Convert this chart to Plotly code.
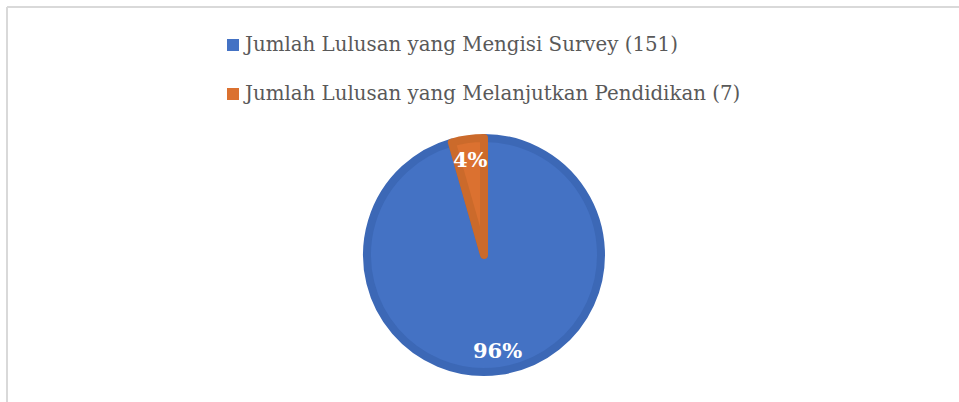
import math
import plotly.graph_objects as go

labels = ["Jumlah Lulusan yang Mengisi Survey (151)", "Jumlah Lulusan yang Melanjutkan Pendidikan (7)"]
values = [151, 7]
colors = ["#4472C4", "#DB7130"]
edge_colors = ["#3C68B6", "#CB6A2B"]

W, H = 959, 402
def px(x):
    return x / W
def py(y):
    return 1 - y / H

cx, cy, R = 484, 255, 121
lw = 8
r = R - lw / 2

fig = go.Figure(go.Pie(
    labels=labels, values=values, sort=False, direction="clockwise", rotation=0,
    marker=dict(colors=colors, line=dict(color=edge_colors, width=lw)),
    textinfo="none",
    domain=dict(x=[px(cx - r), px(cx + r)], y=[py(cy + r), py(cy - r)]),
    showlegend=False, hoverinfo="label+value+percent",
))

shapes = [
    dict(type="line", xref="paper", yref="paper", x0=px(7), x1=1.05, y0=py(7), y1=py(7),
         line=dict(color="#D9D9D9", width=2)),
    dict(type="line", xref="paper", yref="paper", x0=px(7), x1=px(7), y0=-0.05, y1=py(7),
         line=dict(color="#D9D9D9", width=2)),
]
annotations = []

# percentage labels placed at 80% radius at each slice's mid-angle
total = sum(values)
start = 0.0
for v in values:
    frac = v / total
    mid = (start + frac / 2) * 2 * math.pi
    start += frac
    lx = cx + 0.8 * R * math.sin(mid)
    ly = cy - 0.8 * R * math.cos(mid)
    annotations.append(dict(text=f"{round(frac * 100)}%", xref="paper", yref="paper",
                            x=px(lx), y=py(ly), xanchor="center", yanchor="middle",
                            showarrow=False,
                            font=dict(family="DejaVu Serif", size=21, color="white", weight="bold")))

rows = [45, 94]
for lab, col, yrow in zip(labels, colors, rows):
    shapes.append(dict(type="rect", xref="paper", yref="paper", x0=px(227), x1=px(239),
                       y0=py(yrow + 6), y1=py(yrow - 6), fillcolor=col, line=dict(width=0)))
    annotations.append(dict(text=lab, xref="paper", yref="paper", x=px(241), y=py(yrow),
                            xanchor="left", yanchor="middle", showarrow=False,
                            font=dict(family="DejaVu Serif", size=19.8, color="#595959")))

fig.update_layout(
    width=W, height=H, margin=dict(l=0, r=0, t=0, b=0),
    paper_bgcolor="white", plot_bgcolor="white",
    shapes=shapes, annotations=annotations,
)
fig.write_html("out.html", config={"displayModeBar": False},
               post_script="document.body.style.margin='0';")
